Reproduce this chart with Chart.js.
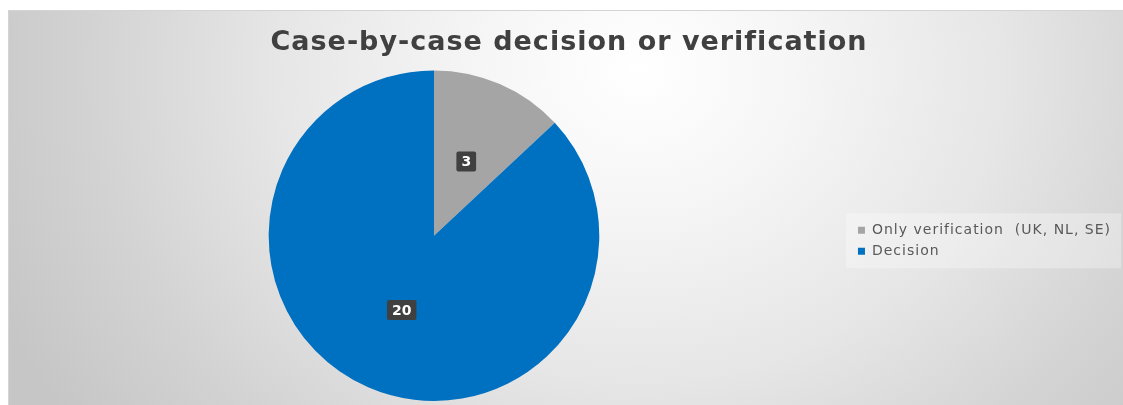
<!DOCTYPE html>
<html>
<head>
<meta charset="utf-8">
<script src="https://cdn.jsdelivr.net/npm/chart.js@4/dist/chart.umd.min.js"></script>
<style>
  html, body { margin: 0; padding: 0; background: #ffffff; }
  #frame {
    position: absolute; left: 8px; top: 10px; width: 1115px; height: 395px;
    box-sizing: border-box; border-top: 1px solid #d4d4d4; border-left: 1px solid #d4d4d4;
    background: radial-gradient(ellipse 700px 600px at 630px 60px, #ffffff 0%, #f6f6f6 22%, #e6e6e6 52%, #d3d3d3 78%, #c6c6c6 100%);
  }
  #wrap { position: absolute; left: 0; top: 0; width: 1114px; height: 394px; }
</style>
</head>
<body>
<div id="frame"><div id="wrap"><canvas id="c"></canvas></div></div>
<script>
const titleText = 'Case-by-case decision or verification';
const categories = ['Only verification  (UK, NL, SE)', 'Decision'];
const values = [3, 20];
const colors = ['#a5a5a5', '#0070c0'];

const spacing = {
  id: 'spacing',
  beforeLayout(chart) { chart.ctx.letterSpacing = '1px'; },
  beforeDraw(chart) {
    const ctx = chart.ctx;
    ctx.letterSpacing = '1px';
    const lg = chart.legend;
    if (lg && lg.legendHitBoxes && lg.legendHitBoxes.length) {
      const items = lg.legendHitBoxes;
      const top = items[0].top - 10;
      const bottom = items[items.length - 1].top + items[items.length - 1].height + 10;
      ctx.save();
      ctx.fillStyle = 'rgba(255,255,255,0.3)';
      ctx.fillRect(items[0].left - 12, top, chart.width - (items[0].left - 12) - 2, bottom - top);
      ctx.restore();
    }
  },
  beforeDatasetsDraw(chart) { chart.ctx.letterSpacing = '0px'; }
};

const labelPlugin = {
  id: 'sliceLabels',
  afterDatasetsDraw(chart) {
    const ctx = chart.ctx;
    const meta = chart.getDatasetMeta(0);
    ctx.save();
    ctx.letterSpacing = '0px';
    ctx.font = 'bold 14px "DejaVu Sans", Verdana, sans-serif';
    ctx.textAlign = 'center';
    ctx.textBaseline = 'middle';
    meta.data.forEach((arc, i) => {
      const p = arc.getProps(['x', 'y', 'startAngle', 'endAngle', 'outerRadius'], true);
      const mid = (p.startAngle + p.endAngle) / 2;
      const r = p.outerRadius * 0.49;
      const x = p.x + Math.cos(mid) * r;
      const y = p.y + Math.sin(mid) * r;
      const txt = String(values[i]);
      const w = ctx.measureText(txt).width + 10;
      const h = 20;
      ctx.fillStyle = '#404040';
      ctx.beginPath();
      ctx.roundRect(x - w / 2, y - h / 2, w, h, 2);
      ctx.fill();
      ctx.fillStyle = '#ffffff';
      ctx.fillText(txt, x, y + 1);
    });
    ctx.restore();
  }
};

new Chart(document.getElementById('c'), {
  type: 'pie',
  data: {
    labels: categories,
    datasets: [{
      data: values,
      backgroundColor: colors,
      borderWidth: 0
    }]
  },
  plugins: [spacing, labelPlugin],
  options: {
    responsive: true,
    maintainAspectRatio: false,
    animation: false,
    layout: { padding: { left: 8, right: 2, top: 0, bottom: 4 } },
    plugins: {
      title: {
        display: true,
        text: titleText,
        color: '#404040',
        font: { family: '"DejaVu Sans", Verdana, sans-serif', size: 27, weight: 'bold' },
        padding: { top: 16, bottom: 11 }
      },
      legend: {
        position: 'right',
        align: 'center',
        fullSize: false,
        title: {
          display: true,
          text: ' ',
          font: { size: 1 },
          padding: { top: 4, bottom: 5 }
        },
        labels: {
          color: '#595959',
          font: { family: '"DejaVu Sans", Verdana, sans-serif', size: 14 },
          boxWidth: 7,
          boxHeight: 7,
          padding: 7
        }
      },
      tooltip: { enabled: false }
    }
  }
});
</script>
</body>
</html>
